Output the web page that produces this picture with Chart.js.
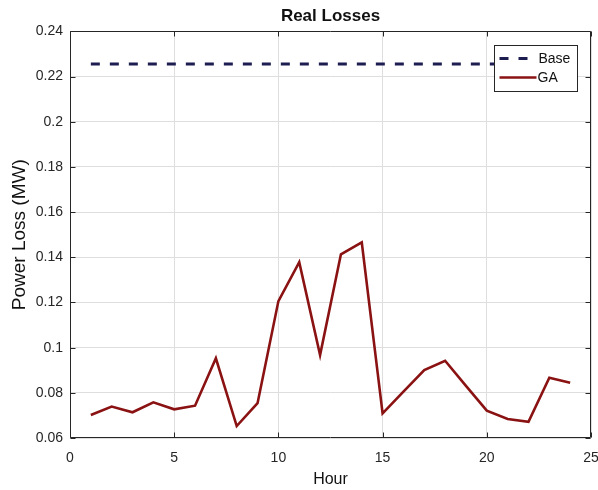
<!DOCTYPE html>
<html>
<head>
<meta charset="utf-8">
<script src="https://cdn.jsdelivr.net/npm/chart.js@4"></script>
<style>
  html, body { margin: 0; padding: 0; background: #fff; }
  canvas { display: block; }
</style>
</head>
<body>
<canvas id="c" width="598" height="490"></canvas>
<script>
// Hourly real power losses (MW)
const hours = [1, 2, 3, 4, 5, 6, 7, 8, 9, 10, 11, 12, 13, 14, 15, 16, 17, 18, 19, 20, 21, 22, 23, 24];
const baseLoss = [0.2256, 0.2256, 0.2256, 0.2256, 0.2256, 0.2256, 0.2256, 0.2256, 0.2256, 0.2256, 0.2256, 0.2256,
                  0.2256, 0.2256, 0.2256, 0.2256, 0.2256, 0.2256, 0.2256, 0.2256, 0.2256, 0.2256, 0.2256, 0.2256];
const gaLoss = [0.0702, 0.0739, 0.0714, 0.0758, 0.0727, 0.0743, 0.0953, 0.0653, 0.0754, 0.1206, 0.1378, 0.0967,
                0.1413, 0.1466, 0.0709, 0.0805, 0.0901, 0.0942, 0.0831, 0.0721, 0.0684, 0.0672, 0.0867, 0.0845];
const seriesLabels = ['Base', 'GA'];
const xTicks = [0, 5, 10, 15, 20, 25];
const yTicks = [0.06, 0.08, 0.1, 0.12, 0.14, 0.16, 0.18, 0.2, 0.22, 0.24];

const FONT = '"Liberation Sans", Arial, Helvetica, sans-serif';
const AXIS_COLOR = '#262626';

const toPoints = (xs, ys) => xs.map((h, i) => ({ x: h, y: ys[i] }));

// Axes box with inward tick marks on all four sides
const axesFrame = {
  id: 'axesFrame',
  afterDatasetsDraw(chart) {
    const { ctx, chartArea: a, scales: { x, y } } = chart;
    const L = Math.round(a.left) + 0.5, R = Math.round(a.right) - 0.5;
    const T = Math.round(a.top) + 0.5, B = Math.round(a.bottom) - 0.5;
    const len = 5;
    ctx.save();
    ctx.strokeStyle = AXIS_COLOR;
    ctx.lineWidth = 1;
    ctx.beginPath();
    ctx.rect(L, T, R - L, B - T);
    xTicks.forEach(v => {
      const px = Math.round(x.getPixelForValue(v)) + 0.5;
      ctx.moveTo(px, B); ctx.lineTo(px, B - len);
      ctx.moveTo(px, T); ctx.lineTo(px, T + len);
    });
    yTicks.forEach(v => {
      const py = Math.round(y.getPixelForValue(v)) + 0.5;
      ctx.moveTo(L, py); ctx.lineTo(L + len, py);
      ctx.moveTo(R, py); ctx.lineTo(R - len, py);
    });
    ctx.stroke();
    ctx.restore();
  }
};

// Boxed legend in the upper-right corner of the axes
const boxLegend = {
  id: 'boxLegend',
  afterDatasetsDraw(chart) {
    const { ctx, chartArea: a } = chart;
    const w = 83, h = 46;
    const bx = Math.round(a.right) - 14 - w + 0.5;
    const by = Math.round(a.top) + 14 + 0.5;
    ctx.save();
    ctx.fillStyle = '#fff';
    ctx.fillRect(bx, by, w, h);
    ctx.strokeStyle = AXIS_COLOR;
    ctx.lineWidth = 1;
    ctx.strokeRect(bx, by, w, h);
    ctx.font = '14px ' + FONT;
    ctx.textBaseline = 'middle';
    ctx.fillStyle = '#111';
    chart.data.datasets.forEach((ds, i) => {
      const ly = by + 13 + i * 19;
      ctx.beginPath();
      ctx.strokeStyle = ds.borderColor;
      ctx.lineWidth = ds.borderWidth;
      ctx.setLineDash(ds.borderDash || []);
      ctx.moveTo(bx + 5, ly);
      ctx.lineTo(bx + (ds.borderDash ? 33 : 42), ly);
      ctx.stroke();
      ctx.setLineDash([]);
      ctx.fillText(ds.label, bx + (ds.borderDash ? 44 : 43), ly + 1);
    });
    ctx.restore();
  }
};

new Chart(document.getElementById('c'), {
  type: 'line',
  data: {
    datasets: [
      {
        label: seriesLabels[0],
        data: toPoints(hours, baseLoss),
        borderColor: '#1d1d52',
        borderWidth: 3,
        borderDash: [9, 10],
        pointRadius: 0,
        fill: false
      },
      {
        label: seriesLabels[1],
        data: toPoints(hours, gaLoss),
        borderColor: '#8a1212',
        borderWidth: 2.6,
        pointRadius: 0,
        tension: 0,
        fill: false
      }
    ]
  },
  options: {
    responsive: false,
    animation: false,
    devicePixelRatio: 1,
    layout: { padding: { left: 0, right: 7, top: 0, bottom: 0 } },
    plugins: {
      legend: { display: false },
      tooltip: { enabled: false },
      title: {
        display: true,
        text: 'Real Losses',
        fullSize: false,
        color: '#111',
        font: { family: FONT, size: 17, weight: 'bold', lineHeight: 1.2 },
        padding: { top: 6, bottom: 5 }
      }
    },
    scales: {
      x: {
        type: 'linear',
        min: 0,
        max: 25,
        afterBuildTicks: s => { s.ticks = xTicks.map(v => ({ value: v })); },
        afterFit: s => { s.height = 52; s.paddingLeft = 0; s.paddingRight = 0; },
        grid: { color: '#dedede', lineWidth: 1, drawTicks: false },
        border: { display: false },
        ticks: {
          color: AXIS_COLOR,
          font: { family: FONT, size: 14 },
          padding: 12,
          maxRotation: 0,
          autoSkip: false
        },
        title: {
          display: true,
          text: 'Hour',
          color: '#111',
          font: { family: FONT, size: 16, lineHeight: 1.2 },
          padding: { top: 0, bottom: 1 }
        }
      },
      y: {
        min: 0.06,
        max: 0.24,
        afterBuildTicks: s => { s.ticks = yTicks.map(v => ({ value: v })); },
        afterFit: s => { s.width = 70; s.paddingTop = 0; s.paddingBottom = 0; },
        grid: { color: '#dedede', lineWidth: 1, drawTicks: false },
        border: { display: false },
        ticks: {
          color: AXIS_COLOR,
          font: { family: FONT, size: 14 },
          padding: 7,
          callback: v => String(Math.round(v * 100) / 100)
        },
        title: {
          display: true,
          text: 'Power Loss (MW)',
          color: '#111',
          font: { family: FONT, size: 19, lineHeight: 1.2 },
          padding: { top: 8, bottom: 0 }
        }
      }
    }
  },
  plugins: [axesFrame, boxLegend]
});
</script>
</body>
</html>
